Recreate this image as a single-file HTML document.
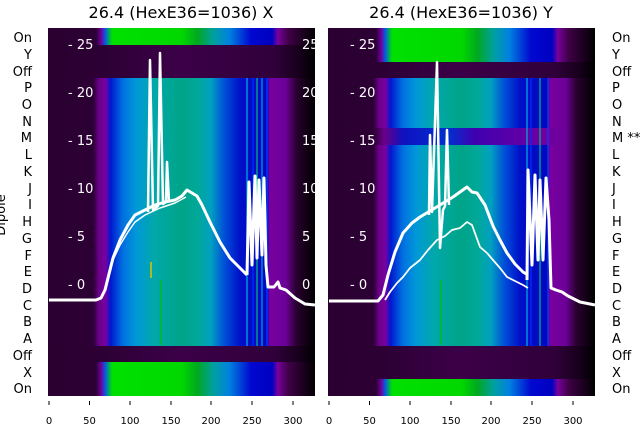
<!DOCTYPE html>
<html><head><style>
body{margin:0;background:#fff;width:640px;height:440px;overflow:hidden}
svg{display:block;font-family:"DejaVu Sans","Liberation Sans",sans-serif}
</style></head><body>
<svg width="640" height="440" xmlns="http://www.w3.org/2000/svg">
<defs>
<linearGradient id="n" x1="0" x2="1" y1="0" y2="0">
<stop offset="0" stop-color="#2a0030"/><stop offset="0.17" stop-color="#2c0034"/>
<stop offset="0.19" stop-color="#6a0088"/><stop offset="0.215" stop-color="#7800a0"/>
<stop offset="0.235" stop-color="#0018d0"/><stop offset="0.28" stop-color="#0070e0"/>
<stop offset="0.33" stop-color="#0098d8"/><stop offset="0.40" stop-color="#00a8a8"/>
<stop offset="0.5" stop-color="#00a488"/><stop offset="0.56" stop-color="#00a898"/>
<stop offset="0.61" stop-color="#00a0c0"/><stop offset="0.66" stop-color="#0050d8"/>
<stop offset="0.72" stop-color="#0010c8"/><stop offset="0.82" stop-color="#0008c0"/>
<stop offset="0.83" stop-color="#7800a0"/><stop offset="0.89" stop-color="#6c0098"/>
<stop offset="0.93" stop-color="#2a0030"/><stop offset="1" stop-color="#000"/>
</linearGradient>
<linearGradient id="m" x1="0" x2="1" y1="0" y2="0">
<stop offset="0" stop-color="#2a0030"/><stop offset="0.17" stop-color="#2c0034"/>
<stop offset="0.21" stop-color="#6a0088"/><stop offset="0.28" stop-color="#1010c0"/>
<stop offset="0.45" stop-color="#0030d0"/><stop offset="0.55" stop-color="#4000b0"/>
<stop offset="0.82" stop-color="#7000a0"/><stop offset="0.89" stop-color="#6c0098"/>
<stop offset="0.93" stop-color="#2a0030"/><stop offset="1" stop-color="#000"/>
</linearGradient>
<linearGradient id="g" x1="0" x2="1" y1="0" y2="0">
<stop offset="0" stop-color="#2a0030"/><stop offset="0.18" stop-color="#2c0034"/>
<stop offset="0.2" stop-color="#7000a0"/><stop offset="0.215" stop-color="#0060e0"/>
<stop offset="0.24" stop-color="#00e000"/><stop offset="0.5" stop-color="#00d800"/>
<stop offset="0.56" stop-color="#00a820"/><stop offset="0.62" stop-color="#00a0a0"/>
<stop offset="0.68" stop-color="#0080e0"/><stop offset="0.76" stop-color="#0008d0"/>
<stop offset="0.84" stop-color="#0000c0"/><stop offset="0.86" stop-color="#7800a0"/>
<stop offset="0.9" stop-color="#400048"/><stop offset="1" stop-color="#000"/>
</linearGradient>
<linearGradient id="d" x1="0" x2="1" y1="0" y2="0">
<stop offset="0" stop-color="#2a0030"/><stop offset="0.2" stop-color="#2c0034"/>
<stop offset="0.5" stop-color="#3c0048"/><stop offset="0.85" stop-color="#30003a"/>
<stop offset="0.93" stop-color="#1a0020"/><stop offset="1" stop-color="#000"/>
</linearGradient>
</defs>

<!-- Left panel -->
<g>
<rect x="48" y="28" width="267" height="368" fill="url(#n)"/>
<rect x="48" y="28" width="267" height="17" fill="url(#g)"/>
<rect x="48" y="45" width="267" height="33" fill="url(#d)"/>
<rect x="48" y="346" width="267" height="16" fill="url(#d)"/>
<rect x="48" y="362" width="267" height="34" fill="url(#g)"/>
<g stroke-width="1.2">
<line x1="247" y1="78" x2="247" y2="346" stroke="#00b0e0"/>
<line x1="253" y1="78" x2="253" y2="346" stroke="#0030ff"/>
<line x1="257" y1="78" x2="257" y2="346" stroke="#00c080"/>
<line x1="262" y1="78" x2="262" y2="346" stroke="#00a0e0"/>
<line x1="267" y1="78" x2="267" y2="346" stroke="#0040ff"/>
<line x1="151" y1="262" x2="151" y2="278" stroke="#e0c000" stroke-width="1.5"/>
<line x1="161" y1="280" x2="161" y2="345" stroke="#00c000"/>
</g>
<g fill="#fff" font-size="13">
<text x="68" y="49">- 25</text><text x="68" y="97">- 20</text><text x="68" y="145">- 15</text>
<text x="68" y="193">- 10</text><text x="68" y="241">- 5</text><text x="68" y="289">- 0</text>
<text x="302" y="49">25</text><text x="302" y="97">20</text><text x="302" y="145">15</text>
<text x="302" y="193">10</text><text x="302" y="241">5</text><text x="302" y="289">0</text>
</g>
<g fill="none" stroke="#fff" stroke-linejoin="round">
<polyline stroke-width="3" points="49,300 96,300 101,298 105,290 108,278 113,258 120,240 128,225 135,215 145,210 155,205 165,202 175,200 182,196 187,190 192,193 197,196 202,205 210,222 220,242 230,258 240,268 247,275"/>
<polyline stroke-width="1.5" points="106,285 112,262 120,245 128,232 135,222 145,215 160,208 175,203 186,197"/>
<polyline stroke-width="3" points="247,275 249,182 252,265 255,176 257,258 259,180 262,255 264,178 266,265 268,287 274,287 278,282 280,288 286,290 295,298 305,304 315,305"/>
<polyline stroke-width="2.5" points="148,212 150,60 153,210 158,206 160,53 163,204 166,202 167,162 169,202"/>
</g>
</g>

<!-- Right panel -->
<g>
<rect x="328" y="28" width="267" height="368" fill="url(#n)"/>
<rect x="328" y="28" width="267" height="34" fill="url(#g)"/>
<rect x="328" y="62" width="267" height="16" fill="url(#d)"/>
<rect x="328" y="128" width="267" height="17" fill="url(#m)"/>
<rect x="328" y="346" width="267" height="33" fill="url(#d)"/>
<rect x="328" y="379" width="267" height="17" fill="url(#g)"/>
<g stroke-width="1.2">
<line x1="527" y1="78" x2="527" y2="346" stroke="#00b0e0"/>
<line x1="531" y1="78" x2="531" y2="346" stroke="#0030ff"/>
<line x1="540" y1="78" x2="540" y2="346" stroke="#00c080"/>
<line x1="548" y1="78" x2="548" y2="346" stroke="#0040ff"/>
<line x1="441" y1="280" x2="441" y2="345" stroke="#00c000"/>
</g>
<g fill="#fff" font-size="13">
<text x="350" y="49">- 25</text><text x="350" y="97">- 20</text><text x="350" y="145">- 15</text>
<text x="350" y="193">- 10</text><text x="350" y="241">- 5</text><text x="350" y="289">- 0</text>
</g>
<g fill="none" stroke="#fff" stroke-linejoin="round">
<polyline stroke-width="3" points="329,301 378,301 383,295 388,275 395,252 403,233 412,223 420,217 435,208 453,197 467,187 472,192 477,193 485,205 493,226 500,240 507,253 515,264 523,272 528,275"/>
<polyline stroke-width="1.8" points="385,300 390,292 397,283 403,277 410,268 420,260 428,250 437,240 445,236 452,230 460,228 467,222 472,225 480,247 487,253 493,260 500,268 507,277 515,281 523,285 528,288"/>
<polyline stroke-width="3" points="527,280 528,170 532,265 535,175 538,260 540,180 543,260 546,178 549,220 551,288 556,290 562,292 568,296 580,302 595,305"/>
<polyline stroke-width="2.5" points="429,215 430,135 432,212 437,62 440,248 443,210 445,206 447,130 449,205"/>
</g>
</g>

<!-- Titles -->
<g font-size="16" fill="#000" text-anchor="middle">
<text x="181" y="18">26.4 (HexE36=1036) X</text>
<text x="461" y="18">26.4 (HexE36=1036) Y</text>
</g>
<!-- Left row labels -->
<g font-size="13" fill="#000" text-anchor="end">
<text x="32" y="42">On</text><text x="32" y="59">Y</text><text x="32" y="76">Off</text>
<text x="32" y="92">P</text><text x="32" y="109">O</text><text x="32" y="126">N</text>
<text x="32" y="142">M</text><text x="32" y="159">L</text><text x="32" y="176">K</text>
<text x="32" y="193">J</text><text x="32" y="209">I</text><text x="32" y="226">H</text>
<text x="32" y="243">G</text><text x="32" y="260">F</text><text x="32" y="276">E</text>
<text x="32" y="293">D</text><text x="32" y="310">C</text><text x="32" y="326">B</text>
<text x="32" y="343">A</text><text x="32" y="360">Off</text><text x="32" y="377">X</text>
<text x="32" y="393">On</text>
</g>
<text transform="translate(5,215) rotate(-90)" font-size="13" text-anchor="middle">Dipole</text>
<g font-size="13" fill="#000">
<text x="612" y="42">On</text><text x="612" y="59">Y</text><text x="612" y="76">Off</text>
<text x="612" y="92">P</text><text x="612" y="109">O</text><text x="612" y="126">N</text>
<text x="612" y="142">M **</text><text x="612" y="159">L</text><text x="612" y="176">K</text>
<text x="612" y="193">J</text><text x="612" y="209">I</text><text x="612" y="226">H</text>
<text x="612" y="243">G</text><text x="612" y="260">F</text><text x="612" y="276">E</text>
<text x="612" y="293">D</text><text x="612" y="310">C</text><text x="612" y="326">B</text>
<text x="612" y="343">A</text><text x="612" y="360">Off</text><text x="612" y="377">X</text>
<text x="612" y="393">On</text>
</g>
<!-- X ticks -->
<g stroke="#000" stroke-width="1">
<line x1="49" y1="401" x2="49" y2="405"/><line x1="89.5" y1="401" x2="89.5" y2="405"/><line x1="130" y1="401" x2="130" y2="405"/><line x1="171" y1="401" x2="171" y2="405"/><line x1="211" y1="401" x2="211" y2="405"/><line x1="252" y1="401" x2="252" y2="405"/><line x1="293" y1="401" x2="293" y2="405"/>
<line x1="329" y1="401" x2="329" y2="405"/><line x1="369.5" y1="401" x2="369.5" y2="405"/><line x1="410" y1="401" x2="410" y2="405"/><line x1="451" y1="401" x2="451" y2="405"/><line x1="491" y1="401" x2="491" y2="405"/><line x1="532" y1="401" x2="532" y2="405"/><line x1="573" y1="401" x2="573" y2="405"/>
</g>
<g font-size="10" fill="#000" text-anchor="middle">
<text x="49" y="424">0</text><text x="89.5" y="424">50</text><text x="130" y="424">100</text><text x="171" y="424">150</text><text x="211" y="424">200</text><text x="252" y="424">250</text><text x="293" y="424">300</text>
<text x="329" y="424">0</text><text x="369.5" y="424">50</text><text x="410" y="424">100</text><text x="451" y="424">150</text><text x="491" y="424">200</text><text x="532" y="424">250</text><text x="573" y="424">300</text>
</g>
</svg>
</body></html>
